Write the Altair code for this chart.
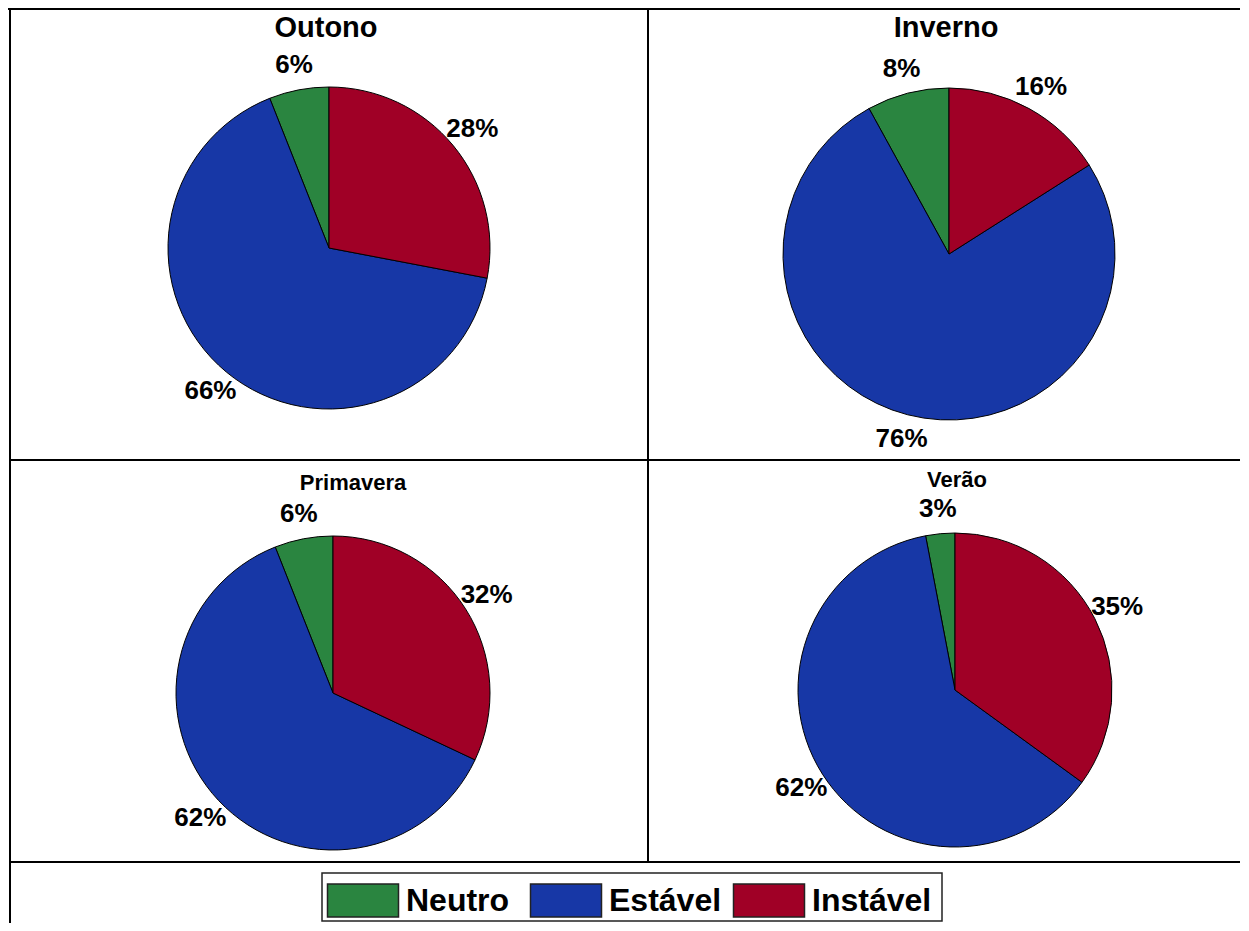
import altair as alt
import pandas as pd

seasons = ["Outono", "Inverno", "Primavera", "Verão"]
categories = ["Neutro", "Estável", "Instável"]
colors = ["#2a8540", "#1737a6", "#a00026"]
neutro = [6, 8, 6, 3]
estavel = [66, 76, 62, 62]
instavel = [28, 16, 32, 35]
draw_order = {"Instável": 0, "Estável": 1, "Neutro": 2}

rows = []
for i, s in enumerate(seasons):
    for cat, vals in zip(categories, [neutro, estavel, instavel]):
        rows.append({"season": s, "cat": cat, "value": vals[i],
                     "ord": draw_order[cat], "label": f"{vals[i]}%"})
df = pd.DataFrame(rows)

FONT = "Liberation Sans"
W, H = 1232, 915
color_scale = alt.Scale(domain=categories, range=colors)

# pie placement: (cx, cy, r, title_x, title_baseline, title_size)
layout = {
    "Outono":    (321, 240, 161, 318, 29, 29),
    "Inverno":   (941, 246, 166, 938, 29, 29),
    "Primavera": (325, 685, 157, 345, 482, 22),
    "Verão":     (947, 682, 157, 949, 479, 22),
}

one = pd.DataFrame({"k": [0]})


def hrule(y, x1, x2):
    return alt.Chart(one).mark_rule(color="black", strokeWidth=2).encode(
        x=alt.value(x1), x2=alt.value(x2), y=alt.value(y))


def vrule(x, y1, y2):
    return alt.Chart(one).mark_rule(color="black", strokeWidth=2).encode(
        x=alt.value(x), y=alt.value(y1), y2=alt.value(y2))


grid = [
    hrule(1, 0, W), hrule(452, 2, W), hrule(854, 2, W),
    vrule(2, 0, H), vrule(640, 0, 854),
]

pies = []
for season in seasons:
    cx, cy, r, tx, ty, ts = layout[season]
    base = alt.Chart(df).transform_filter(alt.datum.season == season)
    arc = base.mark_arc(outerRadius=r, stroke="black", strokeWidth=1).encode(
        theta=alt.Theta("value:Q", stack=True),
        color=alt.Color("cat:N", scale=color_scale, legend=None),
        order=alt.Order("ord:Q"),
        x=alt.value(cx), y=alt.value(cy),
    )
    labels = base.mark_text(radius=r + 25, fontSize=26, fontWeight="bold",
                            font=FONT, color="black", baseline="middle").encode(
        theta=alt.Theta("value:Q", stack=True),
        detail="cat:N",
        order=alt.Order("ord:Q"),
        text="label:N",
        x=alt.value(cx), y=alt.value(cy),
    )
    title = alt.Chart(pd.DataFrame({"season": [season]})).mark_text(
        fontSize=ts, font=FONT, fontWeight="bold", color="black",
        align="center", baseline="alphabetic").encode(
        text="season:N", x=alt.value(tx), y=alt.value(ty))
    pies += [arc, labels, title]

# legend
leg_df = pd.DataFrame({"cat": categories})
box = alt.Chart(one).mark_rect(
    fill="white", stroke="#222222", strokeWidth=1.5).encode(
    x=alt.value(314), x2=alt.value(934), y=alt.value(865), y2=alt.value(913))
xs = alt.X("cat:N", scale=alt.Scale(type="point", domain=categories,
                                    range=[355, 761], padding=0), axis=None)
swatch = alt.Chart(leg_df).mark_rect(width=71, stroke="#222222", strokeWidth=1.5).encode(
    x=xs, y=alt.value(876), y2=alt.value(909),
    color=alt.Color("cat:N", scale=color_scale, legend=None))
leg_text = alt.Chart(leg_df).mark_text(
    align="left", baseline="middle", dx=43, fontSize=32, fontWeight="bold",
    font=FONT, color="black").encode(
    x=xs, y=alt.value(893), text="cat:N")

chart = alt.layer(*grid, *pies, box, swatch, leg_text).properties(
    width=W, height=H,
    padding=0,
    autosize=alt.AutoSizeParams(type="none"),
    background="white",
).configure_view(stroke="transparent")

chart.save("out.html", embed_options={"renderer": "svg", "actions": False})
